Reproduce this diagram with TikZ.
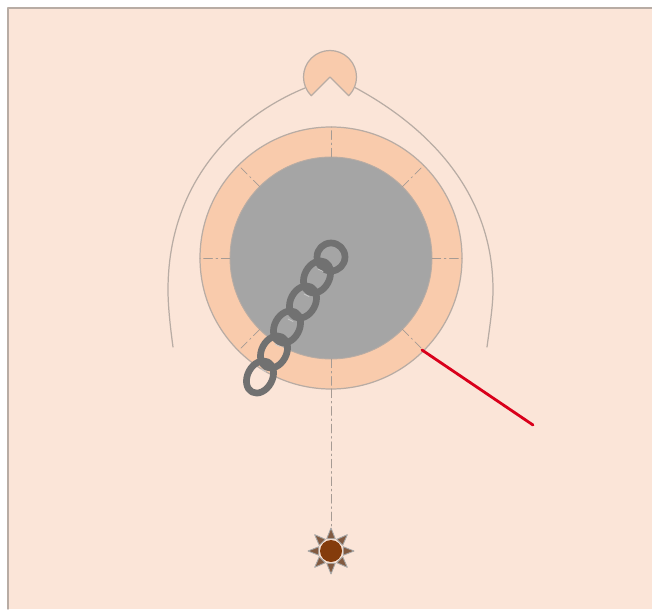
\documentclass[tikz,border=0pt]{standalone}
\usepackage{amsmath,amssymb}
\usetikzlibrary{calc}
\definecolor{nen}{HTML}{FBE5D8}
\definecolor{cam}{HTML}{F9CBAC}
\definecolor{vien}{HTML}{B8ACA4}
\definecolor{xam}{HTML}{A5A5A5}
\definecolor{xich}{HTML}{717171}
\definecolor{nau}{HTML}{843C0C}
\definecolor{do}{HTML}{D9001B}
\tikzset{
	vienmanh/.style={draw=vien,line width=0.7pt},
	truc/.style={draw=vien!90!black,line width=0.4pt,dash pattern=on 5pt off 2pt on 1pt off 2pt},
	matxich/.style={draw=xich,line width=3.8pt},
	tiasang/.style={fill=nau!55!gray,draw=gray!70,line width=0.5pt}
}
\begin{document}
\begin{tikzpicture}[line join=round, line cap=round,>=stealth,x=0.02cm,y=0.02cm]
	\useasboundingbox (0,0) rectangle (652,609);
	% Nền
	\fill[white] (0,0) rectangle (652,609);
	\fill[nen] (8,0) rectangle (652,601);
	\draw[draw=vien,line width=0.8pt] (8,0)--(8,601)--(652,601);
	\coordinate (O) at (331,351);
	\coordinate (P) at (330,532);
	\coordinate (S) at (331,58);
	% Cung ngoài
	\coordinate (L) at (173,262);
	\coordinate (L1) at (168,319);
	\coordinate (T1) at (305,521);
	\coordinate (R) at (487,262);
	\coordinate (R1) at (493,319);
	\coordinate (T2) at (354,522);
	\draw[vienmanh] (L) .. controls (170,284) and (168,304) .. (L1) .. controls (168,424) and (232,491) .. (T1);
	\draw[vienmanh] (R) .. controls (490,284) and (493,304) .. (R1) .. controls (493,419) and (425,484) .. (T2);
	% Móc trên
	\draw[vienmanh,fill=cam] (P) -- ($(P)+(-135:26.5)$) arc[start angle=225,end angle=-45,radius=26.5] -- cycle;
	% Đĩa
	\draw[vienmanh,fill=cam] (O) circle[radius=131];
	\fill[xam] (O) circle[radius=101];
	\draw[vien,line width=0.5pt] (O) circle[radius=101];
	\foreach \g in {0,45,...,315}
		\draw[truc] ($(O)+(\g:101)$)--($(O)+(\g:131)$);
	\coordinate (Q) at ($(O)+(0,-131)$);
	\draw[truc] (Q)--(331,79);
	% Dây đỏ
	\coordinate (E) at (533,184);
	\coordinate (F) at (422,259);
	\draw[do,line width=1.6pt] (F)--(E);
	% Xích
	\draw[matxich] (331,352) circle[radius=14];
	\foreach \x/\y in {317/332,303/307,287/282,274/257,260/232}{
		\draw[matxich,rotate around={-28:(\x,\y)}] (\x,\y) ellipse[x radius=12.4,y radius=17];
		\draw[xam!60!white,line width=0.5pt] ($(\x,\y)+(1,8)$)--($(\x,\y)+(6,5.5)$);
	}
	% Mặt trời
	\foreach \g in {0,45,...,315}
		\draw[tiasang] ($(S)+(\g:23)$)--($(S)+(\g+19:13)$)--($(S)+(\g-19:13)$)--cycle;
	\fill[nau] (S) circle[radius=11];
\end{tikzpicture}
\end{document}
